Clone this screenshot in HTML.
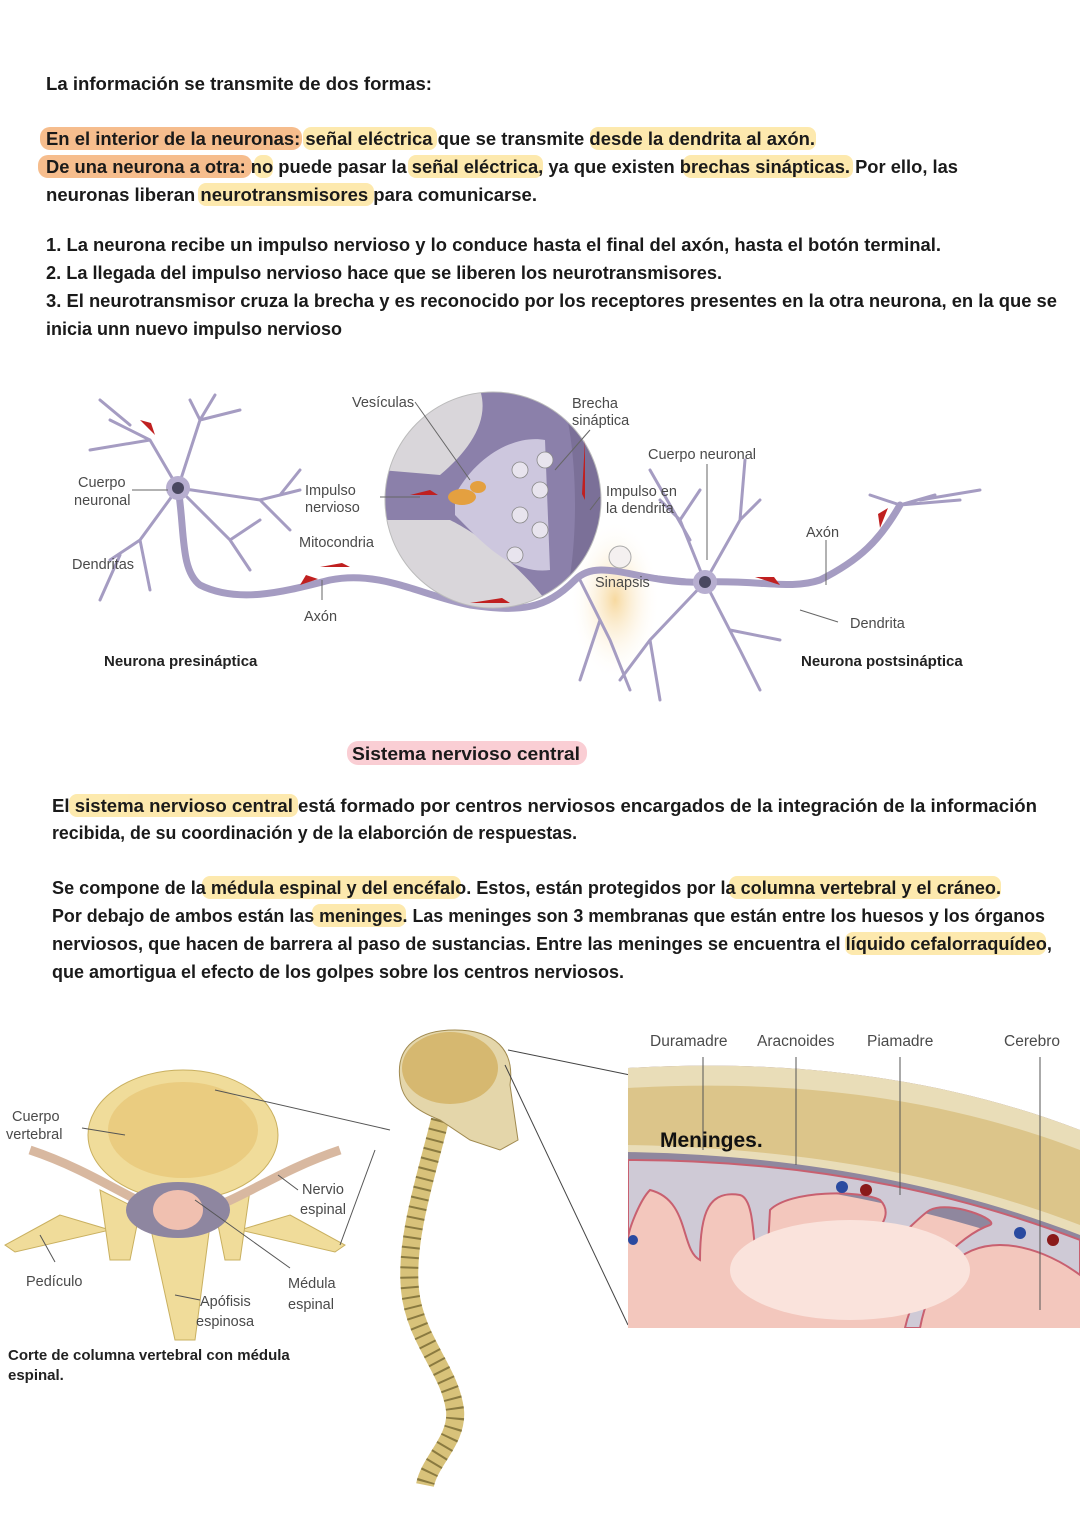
<!DOCTYPE html>
<html><head><meta charset="utf-8"><style>
html,body{margin:0;padding:0;background:#fff;}
svg{display:block}
.h{font-family:"Liberation Sans",sans-serif;font-weight:bold;font-size:18px;fill:#1a1a1a}
.l{font-family:"Liberation Sans",sans-serif;font-size:14.5px;fill:#4a4a4a}
.b{font-family:"Liberation Sans",sans-serif;font-size:15px;font-weight:bold;fill:#222}
</style></head><body>
<svg width="1080" height="1528" viewBox="0 0 1080 1528" xmlns="http://www.w3.org/2000/svg">
<defs>
<radialGradient id="glow" cx="0.5" cy="0.5" r="0.5"><stop offset="0" stop-color="#f7d9a0"/><stop offset="1" stop-color="#fff" stop-opacity="0"/></radialGradient>
<clipPath id="cc"><circle cx="493" cy="500" r="108"/></clipPath>
<clipPath id="mc"><path d="M628 1068 C800 1058 950 1080 1080 1130 L1080 1328 L628 1328 Z"/></clipPath>
</defs>
<!-- highlights -->
<g opacity="0.85">
<rect x="40" y="127" width="262" height="23" rx="10" fill="#f5b27a"/>
<rect x="303" y="127" width="134" height="23" rx="8" fill="#fde6a0"/>
<rect x="590" y="127" width="226" height="23" rx="8" fill="#fde6a0"/>
<rect x="38" y="155" width="214" height="23" rx="10" fill="#f5b27a"/>
<rect x="254" y="155" width="19" height="23" rx="8" fill="#fde6a0"/>
<rect x="408" y="155" width="135" height="23" rx="8" fill="#fde6a0"/>
<rect x="683" y="155" width="170" height="23" rx="8" fill="#fde6a0"/>
<rect x="198" y="183" width="176" height="23" rx="8" fill="#fde6a0"/>
<rect x="347" y="741" width="240" height="24" rx="11" fill="#f9c5cc"/>
<rect x="69" y="794" width="229" height="23" rx="8" fill="#fde6a0"/>
<rect x="202" y="876" width="259" height="23" rx="8" fill="#fde6a0"/>
<rect x="729" y="876" width="272" height="23" rx="8" fill="#fde6a0"/>
<rect x="312" y="904" width="94" height="23" rx="8" fill="#fde6a0"/>
<rect x="845" y="932" width="201" height="23" rx="8" fill="#fde6a0"/>
</g>
<text class="h" x="46" y="90" textLength="386" lengthAdjust="spacingAndGlyphs">La información se transmite de dos formas:</text>
<text class="h" x="46" y="145" textLength="769" lengthAdjust="spacingAndGlyphs">En el interior de la neuronas: señal eléctrica que se transmite desde la dendrita al axón.</text>
<text class="h" x="46" y="173" textLength="912" lengthAdjust="spacingAndGlyphs">De una neurona a otra: no puede pasar la señal eléctrica, ya que existen brechas sinápticas. Por ello, las</text>
<text class="h" x="46" y="201" textLength="491" lengthAdjust="spacingAndGlyphs">neuronas liberan neurotransmisores para comunicarse.</text>
<text class="h" x="46" y="251" textLength="895" lengthAdjust="spacingAndGlyphs">1. La neurona recibe un impulso nervioso y lo conduce hasta el final del axón, hasta el botón terminal.</text>
<text class="h" x="46" y="279" textLength="676" lengthAdjust="spacingAndGlyphs">2. La llegada del impulso nervioso hace que se liberen los neurotransmisores.</text>
<text class="h" x="46" y="307" textLength="1011" lengthAdjust="spacingAndGlyphs">3. El neurotransmisor cruza la brecha y es reconocido por los receptores presentes en la otra neurona, en la que se</text>
<text class="h" x="46" y="335" textLength="296" lengthAdjust="spacingAndGlyphs">inicia unn nuevo impulso nervioso</text>

<!-- neuron diagram -->
<ellipse cx="615" cy="600" rx="45" ry="80" fill="url(#glow)"/>
<g stroke="#a59cc2" fill="none" stroke-linecap="round">
<path d="M178 488 C185 530 180 570 200 585 C240 605 290 590 330 580 C380 570 420 595 470 605 C520 612 545 610 575 580 C600 555 640 585 705 582 C760 580 790 590 820 580 C860 560 880 540 900 505" stroke-width="7"/>
<path d="M178 488 L150 440 L110 420 M150 440 L90 450 M130 425 L100 400 M178 488 L200 420 L190 400 M200 420 L240 410 M200 420 L215 395 M178 488 L260 500 L300 490 M260 500 L290 530 M280 495 L300 470 M178 488 L140 540 L110 560 M140 540 L150 590 M120 555 L100 600 M178 488 L230 540 L250 570 M230 540 L260 520" stroke-width="3"/>
<path d="M705 582 L680 520 L660 500 M680 520 L700 490 M690 540 L650 470 M705 582 L740 520 L760 500 M740 520 L745 460 M705 582 L650 640 L620 680 M650 640 L660 700 M705 582 L740 650 L760 690 M730 630 L780 640 M705 582 L640 575 M900 505 L870 495 M900 505 L935 495 M900 505 L960 500 M920 500 L980 490 M580 580 L610 640 L630 690 M600 620 L580 680" stroke-width="3"/>
</g>
<circle cx="178" cy="488" r="12" fill="#b7aed0"/><circle cx="178" cy="488" r="6" fill="#4a4860"/>
<circle cx="705" cy="582" r="12" fill="#b7aed0"/><circle cx="705" cy="582" r="6" fill="#4a4860"/>
<circle cx="620" cy="557" r="11" fill="#f4f0f0" stroke="#aaa"/>
<g clip-path="url(#cc)">
<rect x="380" y="390" width="230" height="230" fill="#d9d6da"/>
<path d="M480 390 L610 390 L610 620 L560 620 C520 560 470 530 450 520 L380 520 L380 470 L440 475 C470 450 490 420 480 390 Z" fill="#8b80aa"/>
<path d="M455 495 C480 450 520 435 545 440 L550 570 C510 575 480 540 455 515 Z" fill="#cdc7de"/>
<path d="M560 390 L610 390 L610 620 L560 620 C580 560 580 450 560 390 Z" fill="#7b7098"/>
</g>
<circle cx="493" cy="500" r="108" fill="none" stroke="#bbb"/>
<g fill="#e8e4ee" stroke="#888" stroke-width="0.8"><circle cx="520" cy="470" r="8"/><circle cx="545" cy="460" r="8"/><circle cx="540" cy="490" r="8"/><circle cx="520" cy="515" r="8"/><circle cx="540" cy="530" r="8"/><circle cx="515" cy="555" r="8"/></g>
<ellipse cx="462" cy="497" rx="14" ry="8" fill="#e4a040"/><ellipse cx="478" cy="487" rx="8" ry="6" fill="#e4a040"/>
<g fill="#c02020"><path d="M140 420 l15 15 -4 -12z"/><path d="M300 585 l18 -6 -12 -4z"/><path d="M320 567 l30 0 -8 -4z"/><path d="M470 603 l40 0 -8 -5z"/><path d="M410 495 l28 0 -8 -5z"/><path d="M755 577 l25 8 -6 -8z"/><path d="M880 528 l8 -20 -10 6z"/><path d="M585 440 l0 60 -3 -6z"/></g>
<g stroke="#666" stroke-width="1"><line x1="132" y1="490" x2="168" y2="490"/><line x1="380" y1="497" x2="420" y2="497"/><line x1="600" y1="497" x2="590" y2="510"/><line x1="707" y1="464" x2="707" y2="560"/><line x1="826" y1="540" x2="826" y2="585"/><line x1="322" y1="600" x2="322" y2="580"/><line x1="838" y1="622" x2="800" y2="610"/><line x1="415" y1="402" x2="470" y2="480"/><line x1="590" y1="430" x2="555" y2="470"/></g>
<text class="l" x="78" y="487">Cuerpo</text><text class="l" x="74" y="505">neuronal</text>
<text class="l" x="72" y="569">Dendritas</text>
<text class="l" x="352" y="407">Vesículas</text>
<text class="l" x="572" y="408">Brecha</text><text class="l" x="572" y="425">sináptica</text>
<text class="l" x="648" y="459">Cuerpo neuronal</text>
<text class="l" x="305" y="495">Impulso</text><text class="l" x="305" y="512">nervioso</text>
<text class="l" x="606" y="496">Impulso en</text><text class="l" x="606" y="513">la dendrita</text>
<text class="l" x="299" y="547">Mitocondria</text>
<text class="l" x="806" y="537">Axón</text>
<text class="l" x="595" y="587">Sinapsis</text>
<text class="l" x="304" y="621">Axón</text>
<text class="l" x="850" y="628">Dendrita</text>
<text class="b" x="104" y="666">Neurona presináptica</text>
<text class="b" x="801" y="666">Neurona postsináptica</text>

<!-- SNC -->
<text class="h" x="352" y="760" textLength="228" lengthAdjust="spacingAndGlyphs">Sistema nervioso central</text>
<text class="h" x="52" y="812" textLength="985" lengthAdjust="spacingAndGlyphs">El sistema nervioso central está formado por centros nerviosos encargados de la integración de la información</text>
<text class="h" x="52" y="839" textLength="525" lengthAdjust="spacingAndGlyphs">recibida, de su coordinación y de la elaborción de respuestas.</text>
<text class="h" x="52" y="894" textLength="949" lengthAdjust="spacingAndGlyphs">Se compone de la médula espinal y del encéfalo. Estos, están protegidos por la columna vertebral y el cráneo.</text>
<text class="h" x="52" y="922" textLength="993" lengthAdjust="spacingAndGlyphs">Por debajo de ambos están las meninges. Las meninges son 3 membranas que están entre los huesos y los órganos</text>
<text class="h" x="52" y="950" textLength="1000" lengthAdjust="spacingAndGlyphs">nerviosos, que hacen de barrera al paso de sustancias. Entre las meninges se encuentra el líquido cefalorraquídeo,</text>
<text class="h" x="52" y="978" textLength="572" lengthAdjust="spacingAndGlyphs">que amortigua el efecto de los golpes sobre los centros nerviosos.</text>

<!-- vertebra -->
<g fill="#f0dc9a" stroke="#c9b060" stroke-width="1">
<path d="M60 1215 L5 1245 L15 1252 L110 1230 Z"/>
<path d="M290 1215 L345 1245 L335 1252 L240 1230 Z"/>
<path d="M150 1225 L175 1340 L195 1340 L210 1225 Z"/>
<path d="M100 1190 L110 1260 L130 1260 L140 1210 Z"/><path d="M250 1190 L240 1260 L225 1260 L215 1210 Z"/>
<ellipse cx="183" cy="1135" rx="95" ry="65"/>
</g>
<ellipse cx="183" cy="1130" rx="75" ry="48" fill="#e6c270" opacity="0.6"/>
<path d="M30 1150 C90 1170 130 1200 160 1210 M340 1150 C280 1170 240 1200 205 1210" stroke="#d8b8a0" stroke-width="9" fill="none"/>
<ellipse cx="178" cy="1210" rx="52" ry="28" fill="#8e86a0"/>
<ellipse cx="178" cy="1210" rx="25" ry="20" fill="#f0c0b0"/>
<g stroke="#555" stroke-width="1"><line x1="82" y1="1128" x2="125" y2="1135"/><line x1="298" y1="1190" x2="278" y2="1175"/><line x1="40" y1="1235" x2="55" y2="1262"/><line x1="200" y1="1300" x2="175" y2="1295"/><line x1="290" y1="1268" x2="195" y2="1200"/><line x1="215" y1="1090" x2="390" y2="1130"/><line x1="340" y1="1245" x2="375" y2="1150"/></g>
<text class="l" x="12" y="1121">Cuerpo</text><text class="l" x="6" y="1139">vertebral</text>
<text class="l" x="302" y="1194">Nervio</text><text class="l" x="300" y="1214">espinal</text>
<text class="l" x="26" y="1286">Pedículo</text>
<text class="l" x="288" y="1288">Médula</text><text class="l" x="288" y="1309">espinal</text>
<text class="l" x="200" y="1306">Apófisis</text><text class="l" x="196" y="1326">espinosa</text>
<text class="b" x="8" y="1360">Corte de columna vertebral con médula</text>
<text class="b" x="8" y="1380">espinal.</text>

<!-- spine & skull -->
<path d="M440 1120 C425 1180 405 1240 410 1290 C415 1340 450 1370 455 1410 C458 1440 430 1460 425 1485" stroke="#d8c27a" stroke-width="18" fill="none"/>
<path d="M440 1120 C425 1180 405 1240 410 1290 C415 1340 450 1370 455 1410 C458 1440 430 1460 425 1485" stroke="#8a7a40" stroke-width="18" stroke-dasharray="2 8" fill="none"/>
<path d="M400 1080 C395 1045 420 1030 455 1030 C495 1030 515 1050 510 1085 L518 1140 L500 1150 L470 1140 L440 1120 C415 1110 402 1100 400 1080 Z" fill="#e4d6aa" stroke="#a08a50"/>
<ellipse cx="450" cy="1068" rx="48" ry="36" fill="#d6b870"/>
<g stroke="#444" stroke-width="1"><line x1="508" y1="1050" x2="630" y2="1075"/><line x1="505" y1="1065" x2="628" y2="1325"/></g>

<!-- meninges -->
<g clip-path="url(#mc)">
<rect x="628" y="1055" width="460" height="280" fill="#f3c7bd"/>
<path d="M628 1060 C800 1050 950 1075 1080 1125 L1080 1260 C950 1215 800 1175 628 1175 Z" fill="#8f879e"/>
<path d="M628 1060 C800 1050 950 1075 1080 1125 L1080 1235 C950 1185 800 1155 628 1152 Z" fill="#e9ddb8"/>
<path d="M628 1088 C800 1078 950 1100 1080 1150 L1080 1225 C950 1175 800 1148 628 1145 Z" fill="#dcc58a"/>
<path d="M628 1160 C800 1160 950 1190 1080 1240 L1080 1275 C1060 1260 1030 1245 1000 1245 C960 1245 930 1275 920 1328 L905 1328 C915 1280 960 1235 990 1225 C1000 1220 950 1200 930 1210 C920 1215 900 1240 870 1260 C860 1240 900 1220 880 1200 C860 1190 790 1190 770 1210 L765 1300 C750 1280 760 1200 740 1195 C710 1190 700 1210 700 1260 C680 1250 690 1200 650 1190 C640 1200 628 1230 628 1240 Z" fill="#cfcad6" stroke="#c86070" stroke-width="2"/>
<ellipse cx="850" cy="1270" rx="120" ry="50" fill="#fae3dc"/>
</g>
<circle cx="842" cy="1187" r="6" fill="#2a4aa0"/><circle cx="866" cy="1190" r="6" fill="#8a1a1a"/>
<circle cx="1020" cy="1233" r="6" fill="#2a4aa0"/><circle cx="1053" cy="1240" r="6" fill="#8a1a1a"/><circle cx="633" cy="1240" r="5" fill="#2a4aa0"/>
<g stroke="#555" stroke-width="1"><line x1="703" y1="1057" x2="703" y2="1150"/><line x1="796" y1="1057" x2="796" y2="1165"/><line x1="900" y1="1057" x2="900" y2="1195"/><line x1="1040" y1="1057" x2="1040" y2="1310"/></g>
<text class="l" x="650" y="1046" style="font-size:15.5px">Duramadre</text>
<text class="l" x="757" y="1046" style="font-size:15.5px">Aracnoides</text>
<text class="l" x="867" y="1046" style="font-size:15.5px">Piamadre</text>
<text class="l" x="1004" y="1046" style="font-size:15.5px">Cerebro</text>
<text x="660" y="1147" style="font-family:'Liberation Sans',sans-serif;font-weight:bold;font-size:21px;fill:#111">Meninges.</text>
</svg>
</body></html>
